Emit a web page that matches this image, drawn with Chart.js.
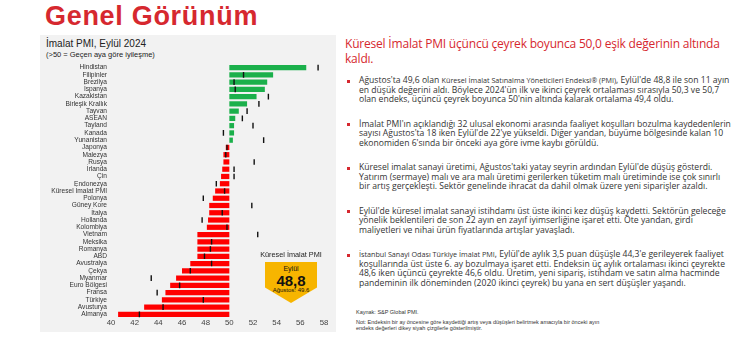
<!DOCTYPE html>
<html lang="tr">
<head>
<meta charset="utf-8">
<title>Genel Görünüm</title>
<script src="https://cdn.jsdelivr.net/npm/chart.js@4.4.1/dist/chart.umd.min.js"></script>
<style>
    body {
        margin: 0;
        width: 740px;
        height: 350px;
        background: #fff;
        position: relative;
        overflow: hidden;
        font-family: "Liberation Sans", Arial, sans-serif;
    }
    .title {
        position: absolute;
        left: 45px;
        top: 1px;
        font-size: 27px;
        font-weight: bold;
        color: #d6282f;
        letter-spacing: 0.7px;
    }
    .panel {
        position: absolute;
        left: 40px;
        top: 35px;
        width: 296px;
        height: 297px;
        background: #f2f2f2;
    }
    .panel-title {
        position: absolute;
        left: 46px;
        top: 38px;
        font-size: 10px;
        color: #222;
    }
    .panel-sub {
        position: absolute;
        left: 46px;
        top: 50px;
        font-size: 7.5px;
        color: #222;
    }
    #pmi-chart {
        position: absolute;
        left: 40px;
        top: 56px;
    }
    .badge-label {
        position: absolute;
        left: 250px;
        width: 82px;
        top: 250px;
        text-align: center;
        font-size: 7.3px;
        color: #222;
    }
    .badge {
        position: absolute;
        left: 265px;
        top: 262px;
        width: 52px;
        height: 41px;
        background: #f7b500;
        clip-path: polygon(0 0, 100% 0, 100% 62%, 50% 100%, 0 62%);
        text-align: center;
        color: #111;
    }
    .badge .m { position: absolute; top: 3px; width: 100%; font-size: 7px; }
    .badge .v { position: absolute; top: 10px; width: 100%; font-size: 15px; font-weight: bold; }
    .badge .p { position: absolute; top: 25px; width: 100%; font-size: 6px; }
    .heading {
        position: absolute;
        left: 345px;
        top: 37px;
        font-family: "Open Sans", sans-serif;
        font-size: 12px;
        line-height: 14.5px;
        color: #d6282f;
        white-space: nowrap;
        letter-spacing: -0.2px;
    }
    .bullets {
        position: absolute;
        left: 347px;
        top: 76px;
        margin: 0;
        padding: 0;
        list-style: none;
        font-family: "Open Sans", sans-serif;
        font-size: 8.6px;
        line-height: 9.5px;
        color: #333;
        white-space: nowrap;
    }
    .bullets li {
        position: relative;
        padding-left: 12px;
        margin-bottom: 15px;
    }
    .bullets li::before {
        content: "";
        position: absolute;
        left: 0;
        top: 3.5px;
        width: 3px;
        height: 3px;
        background: #d6282f;
    }
    .small { font-size: 7.2px; }
    .note {
        position: absolute;
        left: 356px;
        font-size: 5.5px;
        line-height: 6px;
        color: #333;
        white-space: nowrap;
    }
</style>
</head>
<body>
<div class="title">Genel Görünüm</div>
<div class="panel"></div>
<div class="panel-title">İmalat PMI, Eylül 2024</div>
<div class="panel-sub">(&gt;50 = Geçen aya göre iyileşme)</div>
<canvas id="pmi-chart" width="290" height="276"></canvas>
<div class="badge-label">Küresel İmalat PMI</div>
<div class="badge">
    <div class="m">Eylül</div>
    <div class="v">48,8</div>
    <div class="p">Ağustos: 49.6</div>
</div>

<div class="heading">Küresel İmalat PMI üçüncü çeyrek boyunca 50,0 eşik değerinin altında<br>kaldı.</div>

<ul class="bullets">
    <li>Ağustos'ta 49,6 olan <span class="small">Küresel İmalat Satınalma Yöneticileri Endeksi® (PMI)</span>, Eylül'de 48,8 ile son 11 ayın<br>en düşük değerini aldı. Böylece 2024'ün ilk ve ikinci çeyrek ortalaması sırasıyla 50,3 ve 50,7<br>olan endeks, üçüncü çeyrek boyunca 50'nin altında kalarak ortalama 49,4 oldu.</li>
    <li>İmalat PMI'ın açıklandığı 32 ulusal ekonomi arasında faaliyet koşulları bozulma kaydedenlerin<br>sayısı Ağustos'ta 18 iken Eylül'de 22'ye yükseldi. Diğer yandan, büyüme bölgesinde kalan 10<br>ekonomiden 6'sında bir önceki aya göre ivme kaybı görüldü.</li>
    <li>Küresel imalat sanayi üretimi, Ağustos'taki yatay seyrin ardından Eylül'de düşüş gösterdi.<br>Yatırım (sermaye) malı ve ara malı üretimi gerilerken tüketim malı üretiminde ise çok sınırlı<br>bir artış gerçekleşti. Sektör genelinde ihracat da dahil olmak üzere yeni siparişler azaldı.</li>
    <li>Eylül'de küresel imalat sanayi istihdamı üst üste ikinci kez düşüş kaydetti. Sektörün geleceğe<br>yönelik beklentileri de son 22 ayın en zayıf iyimserliğine işaret etti. Öte yandan, girdi<br>maliyetleri ve nihai ürün fiyatlarında artışlar yavaşladı.</li>
    <li><span class="small">İstanbul Sanayi Odası Türkiye İmalat PMI</span>, Eylül'de aylık 3,5 puan düşüşle 44,3'e gerileyerek faaliyet<br>koşullarında üst üste 6. ay bozulmaya işaret etti. Endeksin üç aylık ortalaması ikinci çeyrekte<br>48,6 iken üçüncü çeyrekte 46,6 oldu. Üretim, yeni sipariş, istihdam ve satın alma hacminde<br>pandeminin ilk döneminden (2020 ikinci çeyrek) bu yana en sert düşüşler yaşandı.</li>
</ul>

<div class="note" style="top:309px">Kaynak: S&amp;P Global PMI.</div>
<div class="note" style="top:318.5px">Not: Endeksin bir ay öncesine göre kaydettiği artış veya düşüşleri belirtmek amacıyla bir önceki ayın<br>endeks değerleri dikey siyah çizgilerle gösterilmiştir.</div>

<script>
// Eylül 2024 imalat PMI, bir önceki ay (Ağustos) değerleri siyah çizgilerle
const countries = [
    'Hindistan', 'Filipinler', 'Brezilya', 'İspanya', 'Kazakistan', 'Birleşik Krallık',
    'Tayvan', 'ASEAN', 'Tayland', 'Kanada', 'Yunanistan', 'Japonya', 'Malezya', 'Rusya',
    'İrlanda', 'Çin', 'Endonezya', 'Küresel İmalat PMI', 'Polonya', 'Güney Kore', 'İtalya',
    'Hollanda', 'Kolombiya', 'Vietnam', 'Meksika', 'Romanya', 'ABD', 'Avustralya', 'Çekya',
    'Myanmar', 'Euro Bölgesi', 'Fransa', 'Türkiye', 'Avusturya', 'Almanya'
];
const septValues = [
    56.5, 53.7, 53.2, 53.0, 52.3, 51.5,
    50.8, 50.5, 50.4, 50.4, 50.3, 49.7, 49.5, 49.5,
    49.4, 49.3, 49.2, 48.8, 48.6, 48.3, 48.3,
    48.2, 48.1, 47.3, 47.3, 47.3, 47.3, 46.7, 46.0,
    45.5, 45.0, 44.6, 44.3, 42.8, 40.6
];
const augValues = [
    57.5, 51.2, 50.4, 50.5, 53.3, 52.5,
    51.5, 51.1, 52.0, 49.5, 52.9, 49.8, 49.7, 52.1,
    50.4, 50.4, 48.9, 49.6, 47.8, 51.9, 49.4,
    47.7, 49.8, 52.4, 48.5, 48.4, 47.9, 48.5, 46.7,
    43.4, 45.8, 43.9, 47.8, 44.4, 42.4
];
const xTicks = [40, 42, 44, 46, 48, 50, 52, 54, 56, 58];

const pmiCanvas = document.getElementById('pmi-chart');
const pmiChart = new Chart(pmiCanvas, {
    type: 'bar',
    data: {
        labels: countries,
        datasets: [
            {
                type: 'line',
                label: 'Ağustos',
                data: augValues,
                indexAxis: 'y',
                showLine: false,
                pointStyle: 'line',
                rotation: 90,
                pointRadius: 2.8,
                pointBorderColor: '#111',
                pointBorderWidth: 1.4,
                order: 0
            },
            {
                label: 'Eylül',
                data: septValues.map(v => [50, v]),
                backgroundColor: septValues.map(v => v >= 50 ? '#1bb04b' : '#ff0000'),
                barPercentage: 0.72,
                categoryPercentage: 1,
                order: 1
            }
        ]
    },
    options: {
        indexAxis: 'y',
        responsive: false,
        animation: false,
        layout: {
            padding: { top: 0, right: 6, left: 0, bottom: 0 }
        },
        scales: {
            x: {
                type: 'linear',
                min: 40,
                max: 58,
                afterBuildTicks: s => { s.ticks = xTicks.map(v => ({ value: v })); },
                afterFit: s => { s.height = 14; },
                ticks: {
                    font: { family: 'Liberation Sans', size: 7.8 },
                    color: '#444',
                    padding: 0
                },
                grid: { display: false, drawTicks: false },
                border: { display: false }
            },
            y: {
                afterFit: s => { s.width = 71; },
                ticks: {
                    autoSkip: false,
                    font: { family: 'Liberation Sans', size: 6.6 },
                    color: '#333',
                    padding: 4
                },
                grid: { display: false, drawTicks: false },
                border: { display: false }
            }
        },
        plugins: {
            legend: { display: false },
            tooltip: { enabled: false }
        }
    }
});
</script>
</body>
</html>
